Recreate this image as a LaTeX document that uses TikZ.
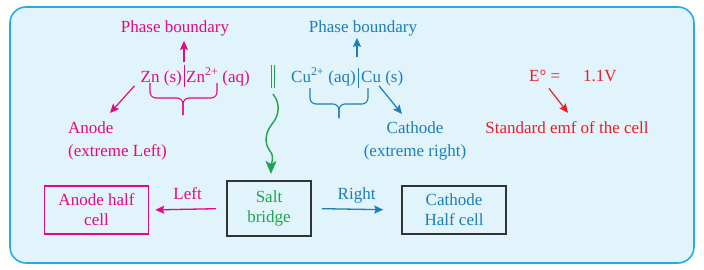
\documentclass[tikz,border=0pt]{standalone}
\usepackage{fontspec}
\setmainfont{Liberation Serif}
\usepackage{tikz}
\usetikzlibrary{arrows.meta,positioning,calc}
\definecolor{cellpink}{HTML}{E5097F}
\definecolor{cellblue}{HTML}{1C7FB6}
\definecolor{cellred}{HTML}{EC1C24}
\definecolor{cellgreen}{HTML}{1EA54C}
\definecolor{panelfill}{HTML}{E1F3FB}
\definecolor{panelline}{HTML}{29ABE2}
\definecolor{boxline}{HTML}{333333}
\tikzset{lbl/.style={font=\fontsize{17}{23}\selectfont,inner sep=0pt},arr/.style={-{Stealth[length=9pt,width=8pt,inset=1.5pt]},line width=1.2pt}}
\begin{document}
\begin{tikzpicture}[x=1pt,y=-1pt,
halfbox/.style={draw,line width=1.5pt,font=\fontsize{17}{20}\selectfont,align=center,minimum width=104pt,minimum height=48pt,inner sep=2pt},
brace/.style={line width=1.1pt,rounded corners=6pt},
barline/.style={line width=1pt}]
\useasboundingbox (0,0) rectangle (704,269);
\draw[panelline,fill=panelfill,line width=1.6pt,rounded corners=16pt] (10,7) rectangle (694,263);
% anode side
\node[lbl,text=cellpink,anchor=base] (pbzn) at (175,32) {Phase boundary};
\node[lbl,text=cellpink,anchor=base east] (zns) at (182,82) {Zn (s)};\node[lbl,text=cellpink,anchor=base west] (znaq) at (186,82) {Zn\textsuperscript{2+} (aq)};
\draw[cellpink,barline] (184,65)--(184,87);\coordinate (znbar) at (184,62);
\draw[arr,cellpink,shorten >=5pt] (znbar)--(znbar |- pbzn.south);
\draw[cellpink,brace] (150,83) |- (183,98) -- (183,115);\draw[cellpink,brace] (217,83) |- (183,98) -- (183,115);
\node[lbl,text=cellpink,align=left,anchor=north west] (anode) at (68,121.5) {Anode\\(extreme Left)};
\draw[arr,cellpink] ([xshift=-6pt]zns.south west)--([shift={(42pt,8.5pt)}]anode.north west);
% cathode side
\node[lbl,text=cellblue,anchor=base] (pbcu) at (363,32) {Phase boundary};
\node[lbl,text=cellblue,anchor=base east] (cuaq) at (356,82) {Cu\textsuperscript{2+} (aq)};\node[lbl,text=cellblue,anchor=base west] (cus) at (361,82) {Cu (s)};
\draw[cellblue,barline] (358,68)--(358,88);\coordinate (cubar) at (357,57);
\draw[arr,cellblue,shorten >=2pt] (cubar)--(cubar |- pbcu.south);
\draw[cellblue,brace] (310,88) |- (339,104) -- (339,118);\draw[cellblue,brace] (368,88) |- (339,104) -- (339,118);
\node[lbl,text=cellblue,align=center,anchor=north] (cathode) at (415,121.5) {Cathode\\(extreme right)};
\draw[arr,cellblue] ([xshift=18pt]cus.south west)--([shift={(-13pt,7.5pt)}]cathode.north);
% emf
\node[lbl,text=cellred,anchor=base west] (emf) at (529,81) {E° =\hspace{23pt}1.1V};
\node[lbl,text=cellred,anchor=base] (stdemf) at (567,133) {Standard emf of the cell};
\draw[arr,cellred] ([shift={(20pt,-7pt)}]emf.south west)--([shift={(1pt,8pt)}]stdemf.north);
% half cells and salt bridge
\node[halfbox,draw=cellpink,text=cellpink] (anodebox) at (96.5,210) {Anode half\\cell};
\node[halfbox,draw=boxline,line width=2pt,text=cellgreen,minimum width=84pt,minimum height=55pt] (saltbox) at (269,208.5) {Salt\\bridge};
\node[halfbox,draw=boxline,text=cellblue] (cathodebox) at (454,210) {Cathode\\Half cell};
\draw[cellgreen,barline] (271.5,65)--(271.5,88) (274.5,65)--(274.5,88);\coordinate (bridgetop) at (273,94);
\draw[cellgreen,line width=1.4pt,-{Stealth[length=13pt,width=11pt,inset=3pt]},shorten >=6pt] (bridgetop) .. controls (281,104) and (279,116) .. (272,124) .. controls (265,133) and (264,143) .. (270,151) .. controls (275,157) and (271,165) .. ([xshift=2pt]saltbox.north);
\draw[arr,cellpink,line width=1.3pt,shorten <=10pt,shorten >=6pt] (saltbox.west)--node[lbl,anchor=base,yshift=10pt,text=cellpink]{Left} (anodebox.east);
\draw[arr,cellblue,line width=1.3pt,shorten <=10pt,shorten >=18pt] (saltbox.east)--node[lbl,anchor=base,yshift=10pt,text=cellblue]{Right} (cathodebox.west);
\end{tikzpicture}
\end{document}
